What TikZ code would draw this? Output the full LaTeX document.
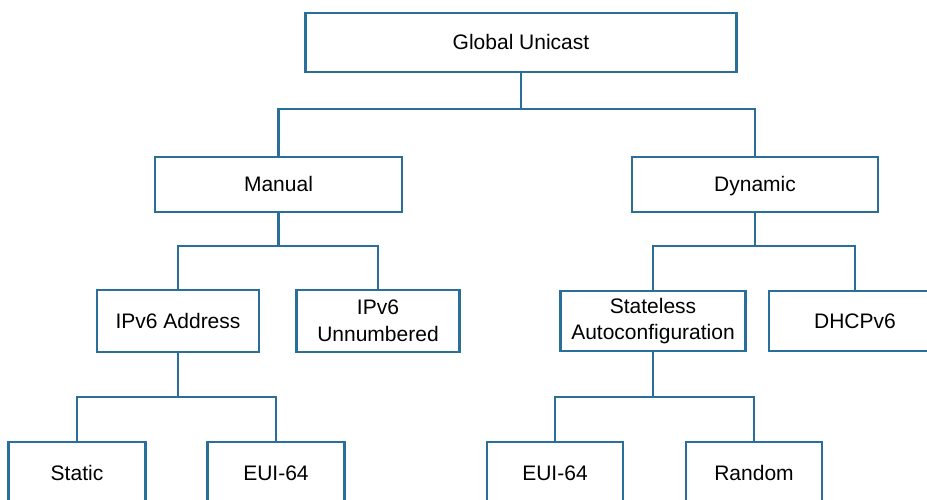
\documentclass[tikz,border=0pt]{standalone}
\usepackage{fontspec}
\setmainfont{Liberation Sans}
\usetikzlibrary{positioning}
\definecolor{boxblue}{RGB}{41,111,154}

\begin{document}
\begin{tikzpicture}[x=1pt,y=-1pt,
  box/.style={draw=boxblue, line width=2.4pt, fill=white, align=center,
    font=\fontsize{21}{26.5}\selectfont, inner sep=0pt},
  oneline/.style={box, text height=15, text depth=0},
  link/.style={draw=boxblue, line width=2.4pt}]
  \path[use as bounding box, clip] (0,0) rectangle (927,500);

  % Boxes
  \node[oneline, minimum width=431, minimum height=59] (gu) at (521,42.5) {Global Unicast};
  \node[oneline, minimum width=247, minimum height=55] (man) at (278.5,184.5) {Manual};
  \node[oneline, minimum width=246, minimum height=55] (dyn) at (755,184.5) {Dynamic};
  \node[oneline, minimum width=162, minimum height=62] (ipa) at (178,321) {IPv6 Address};
  \node[box, minimum width=163, minimum height=62] (unn) at (378,321) {IPv6\\Unnumbered};
  \node[box, minimum width=185, minimum height=60] (sla) at (653,321) {Stateless\\Autoconfiguration};
  \node[oneline, minimum width=172, minimum height=60] (dhcp) at (855,321) {DHCPv6};
  \node[oneline, minimum width=137, minimum height=62] (sta) at (77,473) {Static};
  \node[oneline, minimum width=137, minimum height=62] (euia) at (276,473) {EUI-64};
  \node[oneline, minimum width=136, minimum height=62] (euib) at (555,473) {EUI-64};
  \node[oneline, minimum width=136, minimum height=62] (rnd) at (754,473) {Random};

  % Links
  \draw[link] (gu.south) -- (gu.south |- 0,109) -| (man.north);
  \draw[link] (gu.south |- 0,109) -| (dyn.north);
  \draw[link] (man.south) -- (man.south |- 0,246) -| (ipa.north);
  \draw[link] (man.south |- 0,246) -| (unn.north);
  \draw[link] (dyn.south) -- (dyn.south |- 0,246) -| (sla.north);
  \draw[link] (dyn.south |- 0,246) -| (dhcp.north);
  \draw[link] (ipa.south) -- (ipa.south |- 0,397) -| (sta.north);
  \draw[link] (ipa.south |- 0,397) -| (euia.north);
  \draw[link] (sla.south) -- (sla.south |- 0,397) -| (euib.north);
  \draw[link] (sla.south |- 0,397) -| (rnd.north);
\end{tikzpicture}
\end{document}
